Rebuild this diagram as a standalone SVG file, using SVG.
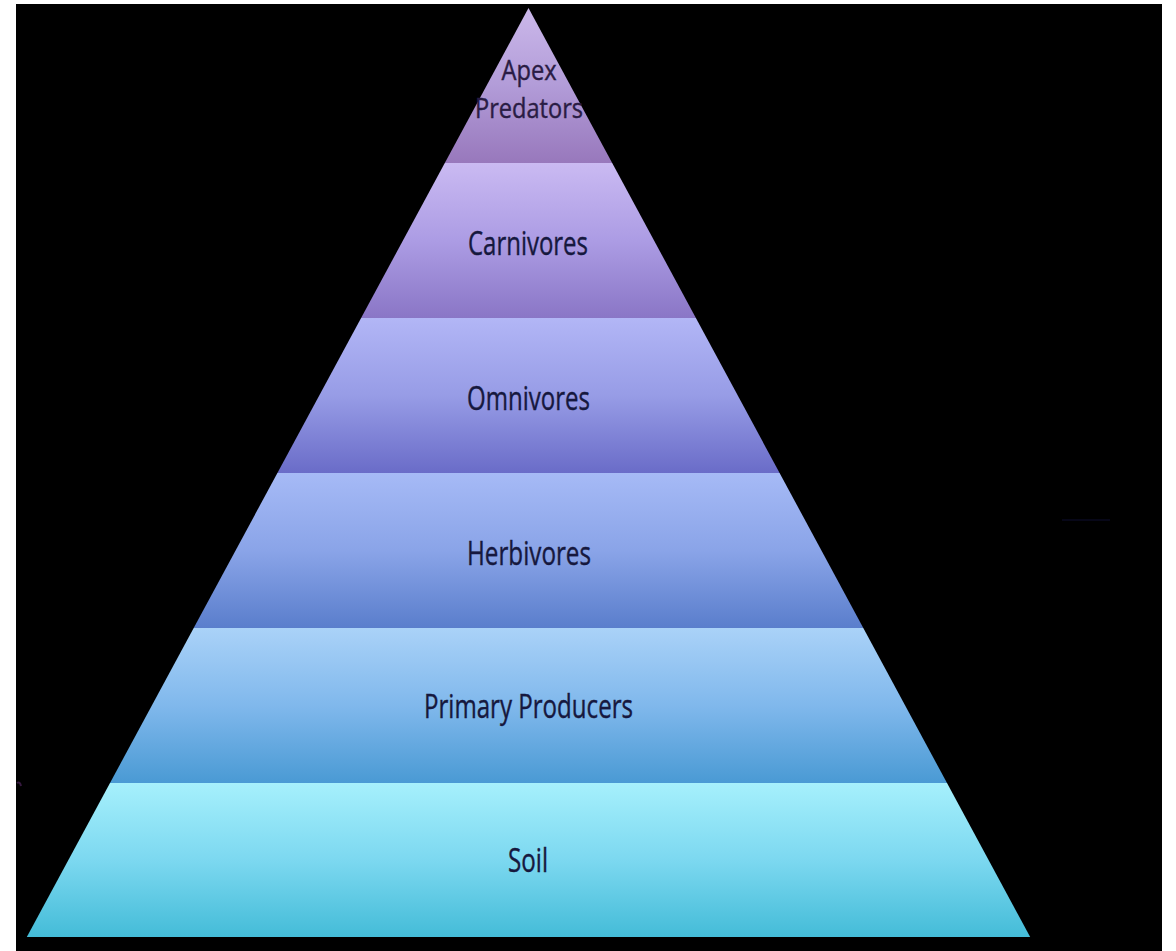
<svg xmlns="http://www.w3.org/2000/svg" width="1176" height="951" viewBox="0 0 1176 951">
  <defs>
    <!-- vertical shading per tier: light top, deeper bottom -->
    <linearGradient id="gApex" x1="0" y1="0" x2="0" y2="1">
      <stop offset="0" stop-color="#cbb8ea"/>
      <stop offset="0.5" stop-color="#b29cd8"/>
      <stop offset="1" stop-color="#9878bc"/>
    </linearGradient>
    <linearGradient id="gCarn" x1="0" y1="0" x2="0" y2="1">
      <stop offset="0" stop-color="#cabaf2"/>
      <stop offset="0.5" stop-color="#ac9ce4"/>
      <stop offset="1" stop-color="#8a76c6"/>
    </linearGradient>
    <linearGradient id="gOmni" x1="0" y1="0" x2="0" y2="1">
      <stop offset="0" stop-color="#b2b6f6"/>
      <stop offset="0.5" stop-color="#979ce6"/>
      <stop offset="1" stop-color="#6a6cc8"/>
    </linearGradient>
    <linearGradient id="gHerb" x1="0" y1="0" x2="0" y2="1">
      <stop offset="0" stop-color="#a6baf6"/>
      <stop offset="0.5" stop-color="#8aa4e8"/>
      <stop offset="1" stop-color="#5a7ecc"/>
    </linearGradient>
    <linearGradient id="gProd" x1="0" y1="0" x2="0" y2="1">
      <stop offset="0" stop-color="#aad2f8"/>
      <stop offset="0.5" stop-color="#80b8ec"/>
      <stop offset="1" stop-color="#4a9ad4"/>
    </linearGradient>
    <linearGradient id="gSoil" x1="0" y1="0" x2="0" y2="1">
      <stop offset="0" stop-color="#a6f0fc"/>
      <stop offset="0.5" stop-color="#7cd8f0"/>
      <stop offset="1" stop-color="#44bcd8"/>
    </linearGradient>
  </defs>
  <style>
    .lbl { font-family: "Open Sans", "Noto Sans", "Liberation Sans", sans-serif; font-size: 32px; fill: #16183e; stroke: #16183e; stroke-width: 0.4; text-anchor: middle; }
    .apex { font-size: 27px; fill: #2a1c44; stroke: #2a1c44; }
  </style>

  <!-- page and dark backdrop -->
  <rect x="0" y="0" width="1176" height="951" fill="#ffffff"/>
  <rect x="16" y="4" width="1146" height="947" fill="#000000"/>
  <path d="M17,783 q3,-2 4,3" stroke="#5a2a6a" stroke-width="2" fill="none" opacity="0.6"/>
  <line x1="1062" y1="520" x2="1110" y2="520" stroke="#1a1a50" stroke-width="2" opacity="0.3"/>

  <g id="tier-apex">
    <polygon points="528.5,8 612.2,163 444.8,163" fill="url(#gApex)"/>
    <text class="lbl apex" x="529" y="80" textLength="55" lengthAdjust="spacingAndGlyphs">Apex</text>
    <text class="lbl apex" x="529" y="118" textLength="108" lengthAdjust="spacingAndGlyphs">Predators</text>
  </g>

  <g id="tier-carnivores">
    <polygon points="444.8,163 612.2,163 695.9,318 361.1,318" fill="url(#gCarn)"/>
    <text class="lbl" x="528" y="255" textLength="120" lengthAdjust="spacingAndGlyphs">Carnivores</text>
  </g>

  <g id="tier-omnivores">
    <polygon points="361.1,318 695.9,318 779.6,473 277.4,473" fill="url(#gOmni)"/>
    <text class="lbl" x="528.5" y="410" textLength="123" lengthAdjust="spacingAndGlyphs">Omnivores</text>
  </g>

  <g id="tier-herbivores">
    <polygon points="277.4,473 779.6,473 863.3,628 193.7,628" fill="url(#gHerb)"/>
    <text class="lbl" x="529" y="565" textLength="124" lengthAdjust="spacingAndGlyphs">Herbivores</text>
  </g>

  <g id="tier-producers">
    <polygon points="193.7,628 863.3,628 947,783 110,783" fill="url(#gProd)"/>
    <text class="lbl" x="528.5" y="718" textLength="209" lengthAdjust="spacingAndGlyphs">Primary Producers</text>
  </g>

  <g id="tier-soil">
    <polygon points="110,783 947,783 1030.2,937 26.8,937" fill="url(#gSoil)"/>
    <text class="lbl" x="528" y="872" textLength="40" lengthAdjust="spacingAndGlyphs">Soil</text>
  </g>

  <g id="connectors"></g>
</svg>
